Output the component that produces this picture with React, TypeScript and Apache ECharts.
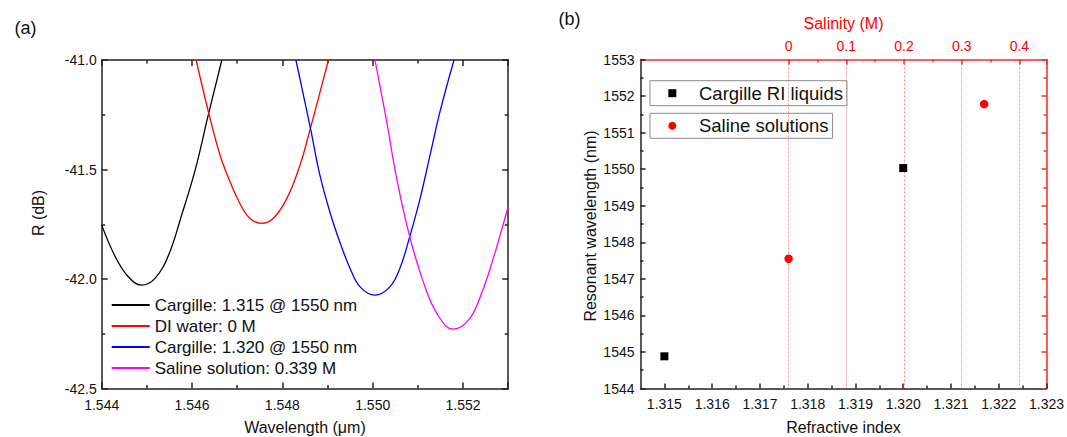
import { useEffect, useRef } from "react";
import * as echarts from "echarts";

// ---------- Panel (a): reflection spectra (wavelength in µm, R in dB) ----------
const seriesNamesA = [
  "Cargille: 1.315 @ 1550 nm",
  "DI water: 0 M",
  "Cargille: 1.320 @ 1550 nm",
  "Saline solution: 0.339 M",
];
const seriesColorsA = ["#000000", "#ff0000", "#0000ff", "#ff00ff"];

const cargille1315Wl = [1.544, 1.5443, 1.54459, 1.54488, 1.54518, 1.54548, 1.54577, 1.54607, 1.54636, 1.54666];
const cargille1315R = [-41.754, -41.898, -41.99, -42.028, -41.997, -41.891, -41.708, -41.502, -41.251, -41.0];

const diWaterWl = [1.54609, 1.54638, 1.54662, 1.54684, 1.54706, 1.54728, 1.54754, 1.5478, 1.5481, 1.54839, 1.54861, 1.54902];
const diWaterR = [-41.0, -41.251, -41.434, -41.556, -41.655, -41.723, -41.746, -41.723, -41.632, -41.48, -41.32, -41.0];

const cargille1320Wl = [1.5483, 1.54863, 1.54883, 1.54905, 1.54927, 1.5495, 1.54972, 1.55005, 1.55038, 1.5506, 1.55082, 1.55105, 1.55127, 1.55149, 1.5518];
const cargille1320R = [-41.0, -41.32, -41.525, -41.693, -41.83, -41.952, -42.036, -42.074, -42.036, -41.952, -41.807, -41.632, -41.434, -41.236, -41.0];

const salineWl = [1.55005, 1.55031, 1.55053, 1.55082, 1.55112, 1.55142, 1.55178, 1.55215, 1.55245, 1.55267, 1.55282, 1.553];
const salineR = [-41.0, -41.282, -41.54, -41.807, -42.013, -42.157, -42.229, -42.18, -42.043, -41.906, -41.8, -41.67];

const wlAxisA = { min: 1.544, max: 1.553, step: 0.002 };
const rAxisA = { min: -42.5, max: -41.0, step: 0.5 };

// ---------- Panel (b): resonant wavelength vs refractive index / salinity ----------
const cargilleRI = [1.315, 1.32];
const cargilleResonance = [1544.88, 1550.03];
const salineSalinity = [0, 0.339];
const salineResonance = [1547.55, 1551.78];

const riAxis = { min: 1.3145, max: 1.323, tickStart: 1.315, step: 0.001 };
const salAxis = { min: 0, max: 0.447, step: 0.1 };
const resAxis = { min: 1544, max: 1553, step: 1 };

const FONT = "'Liberation Sans', Arial, Helvetica, sans-serif";

const zip = (a: number[], b: number[]) => a.map((v, i) => [v, b[i]]);
const isMultiple = (v: number, step: number) => Math.abs(Math.round(v / step) * step - v) < 1e-7;

export default function App() {
  const ref = useRef<HTMLDivElement>(null);

  useEffect(() => {
    if (!ref.current) return;
    const chart = echarts.init(ref.current, undefined, { renderer: "svg" });

    // layout (pixels)
    const gA = { left: 101.7, top: 60, width: 406.5, height: 328.5 };
    const gB = { left: 640.5, top: 59.5, width: 406, height: 329 };
    const pxPerRI = gB.width / (riAxis.max - riAxis.min);
    const riLeft = gB.left + (riAxis.tickStart - riAxis.min) * pxPerRI;
    const salZeroPx = 788.6;
    const gBri = { left: riLeft, top: gB.top, width: gB.left + gB.width - riLeft, height: gB.height };
    const gBsal = { left: salZeroPx, top: gB.top, width: gB.left + gB.width - salZeroPx, height: gB.height };

    const dark = "#222";
    const red = "#ff2a2a";
    const tick = (color: string, len: number) => ({
      show: true,
      inside: true,
      length: len,
      lineStyle: { color, width: 1.5 },
    });
    const minor = (color: string, len: number) => ({
      show: true,
      splitNumber: 2,
      length: len,
      lineStyle: { color, width: 1.5 },
    });
    const line = (color: string) => ({ show: true, onZero: false, lineStyle: { color, width: 1.5 } });
    const labelStyle = { fontSize: 14, color: "#111", fontFamily: FONT };
    const nameStyle = { fontSize: 16, color: "#111", fontFamily: FONT };

    const dataA = [
      zip(cargille1315Wl, cargille1315R),
      zip(diWaterWl, diWaterR),
      zip(cargille1320Wl, cargille1320R),
      zip(salineWl, salineR),
    ];

    const boxLegend = (name: string, top: number) => ({
      data: [name],
      left: 650,
      top,
      padding: [3, 4, 3, 18.3],
      borderColor: "#8c8c8c",
      borderWidth: 1,
      itemWidth: 8,
      itemHeight: 8,
      selectedMode: false,
      textStyle: { fontSize: 18.5, lineHeight: 19, color: "#111", fontFamily: FONT, padding: [0, 0, 0, 17.7] },
    });

    const option: any = {
      animation: false,
      backgroundColor: "#ffffff",
      grid: [
        { ...gA, outerBoundsMode: "none", containLabel: false },
        { ...gB, outerBoundsMode: "none", containLabel: false },
        { ...gBri, outerBoundsMode: "none", containLabel: false },
        { ...gBsal, outerBoundsMode: "none", containLabel: false },
      ],
      xAxis: [
        {
          gridIndex: 0,
          type: "value",
          position: "bottom",
          min: wlAxisA.min,
          max: wlAxisA.max,
          interval: wlAxisA.step,
          name: "Wavelength (μm)",
          nameLocation: "middle",
          nameGap: 31,
          nameTextStyle: nameStyle,
          axisLine: line(dark),
          axisTick: tick(dark, 6),
          minorTick: minor(dark, 3.5),
          axisLabel: {
            ...labelStyle,
            margin: 9,
            formatter: (v: number) => (isMultiple(v - wlAxisA.min, wlAxisA.step) && v < wlAxisA.max - 1e-9 ? v.toFixed(3) : ""),
          },
          splitLine: { show: false },
        },
        {
          gridIndex: 0,
          type: "value",
          position: "top",
          min: wlAxisA.min,
          max: wlAxisA.max,
          interval: wlAxisA.step,
          axisLine: line(dark),
          axisTick: tick(dark, 6),
          minorTick: minor(dark, 3.5),
          axisLabel: { show: false },
          splitLine: { show: false },
        },
        {
          gridIndex: 1,
          type: "value",
          position: "bottom",
          min: riAxis.min,
          max: riAxis.max,
          name: "Refractive index",
          nameLocation: "middle",
          nameGap: 31,
          nameTextStyle: nameStyle,
          axisLine: line(dark),
          axisTick: { show: false },
          axisLabel: { show: false },
          splitLine: { show: false },
        },
        {
          gridIndex: 1,
          type: "value",
          position: "top",
          min: riAxis.min,
          max: riAxis.max,
          name: "Salinity (M)",
          nameLocation: "middle",
          nameGap: 28,
          nameTextStyle: { ...nameStyle, color: "#ff0000" },
          axisLine: line(red),
          axisTick: { show: false },
          axisLabel: { show: false },
          splitLine: { show: false },
        },
        {
          gridIndex: 2,
          type: "value",
          position: "bottom",
          min: riAxis.tickStart,
          max: riAxis.max,
          interval: riAxis.step,
          axisLine: { show: false, onZero: false },
          axisTick: tick(dark, 5),
          minorTick: minor(dark, 3),
          axisLabel: { ...labelStyle, margin: 8, formatter: (v: number) => v.toFixed(3) },
          splitLine: { show: false },
        },
        {
          gridIndex: 3,
          type: "value",
          position: "top",
          min: salAxis.min,
          max: salAxis.max,
          interval: salAxis.step,
          axisLine: { show: false, onZero: false },
          axisTick: tick(red, 5),
          minorTick: minor(red, 3),
          axisLabel: {
            ...labelStyle,
            color: "#ff0000",
            margin: 7,
            formatter: (v: number) => (isMultiple(v, salAxis.step) ? String(Math.round(v * 10) / 10) : ""),
          },
          splitLine: { show: true, lineStyle: { color: "#ff8a8a", width: 1, type: [2, 2] } },
        },
      ],
      yAxis: [
        {
          gridIndex: 0,
          type: "value",
          position: "left",
          min: rAxisA.min,
          max: rAxisA.max,
          interval: rAxisA.step,
          axisLine: line(dark),
          axisTick: tick(dark, 6),
          minorTick: minor(dark, 3.5),
          axisLabel: { ...labelStyle, margin: 5, formatter: (v: number) => v.toFixed(1) },
          splitLine: { show: false },
        },
        {
          gridIndex: 0,
          type: "value",
          position: "right",
          min: rAxisA.min,
          max: rAxisA.max,
          interval: rAxisA.step,
          axisLine: line(dark),
          axisTick: tick(dark, 6),
          minorTick: minor(dark, 3.5),
          axisLabel: { show: false },
          splitLine: { show: false },
        },
        {
          gridIndex: 1,
          type: "value",
          position: "left",
          min: resAxis.min,
          max: resAxis.max,
          interval: resAxis.step,
          axisLine: line(dark),
          axisTick: tick(dark, 5),
          minorTick: minor(dark, 3),
          axisLabel: { ...labelStyle, margin: 6, formatter: (v: number) => String(v) },
          splitLine: { show: false },
        },
        {
          gridIndex: 1,
          type: "value",
          position: "right",
          min: resAxis.min,
          max: resAxis.max,
          interval: resAxis.step,
          axisLine: line(red),
          axisTick: tick(red, 5),
          minorTick: minor(red, 3),
          axisLabel: { show: false },
          splitLine: { show: false },
        },
        { gridIndex: 2, type: "value", min: resAxis.min, max: resAxis.max, show: false },
        { gridIndex: 3, type: "value", min: resAxis.min, max: resAxis.max, show: false },
      ],
      legend: [
        {
          data: seriesNamesA,
          orient: "vertical",
          left: 110.7,
          top: 294.5,
          padding: 0,
          itemWidth: 38,
          itemHeight: 14,
          itemGap: 0,
          selectedMode: false,
          itemStyle: { color: "rgba(0,0,0,0)", borderColor: "rgba(0,0,0,0)", borderWidth: 0 },
          textStyle: { fontSize: 17, lineHeight: 21, color: "#111", fontFamily: FONT },
        },
        boxLegend("Cargille RI liquids", 80.7),
        boxLegend("Saline solutions", 113.3),
      ],
      graphic: [
        { type: "text", x: 14.5, y: 27.5, style: { text: "(a)", fontSize: 18, fontFamily: FONT, fill: "#111", verticalAlign: "middle" } },
        { type: "text", x: 558.5, y: 18.5, style: { text: "(b)", fontSize: 18, fontFamily: FONT, fill: "#111", verticalAlign: "middle" } },
        {
          type: "text",
          x: 38,
          y: 213,
          rotation: Math.PI / 2,
          style: { text: "R (dB)", fontSize: 16, fontFamily: FONT, fill: "#111", align: "center", verticalAlign: "middle" },
        },
        {
          type: "text",
          x: 590,
          y: 226,
          rotation: Math.PI / 2,
          style: { text: "Resonant wavelength (nm)", fontSize: 16, fontFamily: FONT, fill: "#111", align: "center", verticalAlign: "middle" },
        },
      ],
      series: [
        ...dataA.map((d, i) => ({
          name: seriesNamesA[i],
          type: "line",
          xAxisIndex: 0,
          yAxisIndex: 0,
          data: d,
          smooth: 0.4,
          symbol: "none",
          color: seriesColorsA[i],
          lineStyle: { color: seriesColorsA[i], width: 1.3 },
          clip: true,
        })),
        {
          name: "Cargille RI liquids",
          type: "scatter",
          xAxisIndex: 4,
          yAxisIndex: 4,
          data: zip(cargilleRI, cargilleResonance),
          symbol: "rect",
          symbolSize: 8,
          itemStyle: { color: "#000000", opacity: 1 },
          clip: false,
        },
        {
          name: "Saline solutions",
          type: "scatter",
          xAxisIndex: 5,
          yAxisIndex: 5,
          data: zip(salineSalinity, salineResonance),
          symbol: "circle",
          symbolSize: 8.5,
          itemStyle: { color: "#ff0000", opacity: 1 },
          clip: false,
        },
      ],
    };

    chart.setOption(option);
    return () => chart.dispose();
  }, []);

  return (
    <div
      ref={ref}
      style={{ position: "fixed", left: 0, top: 0, width: 1067, height: 437, background: "#fff" }}
    />
  );
}
